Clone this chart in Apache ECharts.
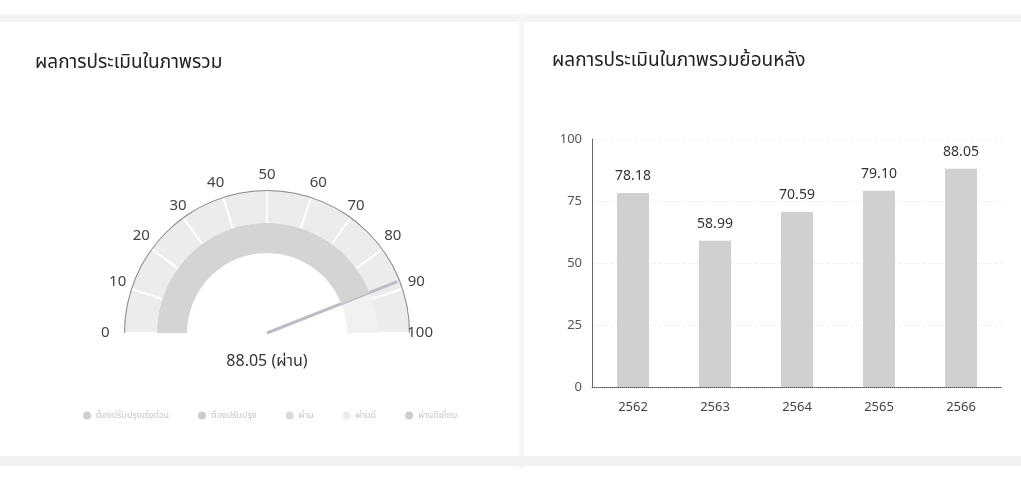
<!DOCTYPE html>
<html>
<head>
<meta charset="utf-8">
<script src="https://cdn.jsdelivr.net/npm/echarts@6/dist/echarts.min.js"></script>
<style>
html,body{margin:0;padding:0;background:#fff;}
#c{width:1021px;height:480px;}
</style>
</head>
<body>
<div id="c"></div>
<script>
const gaugeTitle = 'ผลการประเมินในภาพรวม';
const barTitle = 'ผลการประเมินในภาพรวมย้อนหลัง';
const overallScore = 88.05;
const overallStatus = 'ผ่าน';
const levelNames = ['ต้องปรับปรุงเร่งด่วน', 'ต้องปรับปรุง', 'ผ่าน', 'ผ่านดี', 'ผ่านดีเยี่ยม'];
const levelColors = ['#cfcfcf', '#cbcbcb', '#dadada', '#ececec', '#cdcdcd'];
const years = ['2562', '2563', '2564', '2565', '2566'];
const yearScores = [78.18, 58.99, 70.59, 79.10, 88.05];

const FONT = '"Noto Sans", "Noto Sans Thai", sans-serif';
const chart = echarts.init(document.getElementById('c'), null, {renderer: 'canvas'});
const center = [267, 333];

chart.setOption({
  backgroundColor: '#ffffff',
  textStyle: {fontFamily: FONT},
  graphic: [
    {type: 'rect', silent: true, shape: {x: 0, y: 14, width: 1021, height: 8}, style: {fill: '#f3f3f3'}},
    {type: 'rect', silent: true, shape: {x: 519, y: 14, width: 5, height: 454}, style: {fill: '#f5f5f5'}},
    {type: 'rect', silent: true, shape: {x: 0, y: 456, width: 1021, height: 10}, style: {fill: '#f1f1f1'}}
  ],
  title: [
    {text: gaugeTitle, left: 30, top: 48, textStyle: {fontSize: 19, fontWeight: 'normal', color: '#222', fontFamily: FONT}},
    {text: barTitle, left: 547, top: 46, textStyle: {fontSize: 19, fontWeight: 'normal', color: '#222', fontFamily: FONT}}
  ],
  legend: {
    data: levelNames,
    left: 78, top: 406,
    icon: 'circle', itemWidth: 8, itemHeight: 8, itemGap: 29,
    textStyle: {fontSize: 9, color: '#c4c4c4', fontFamily: FONT},
    selectedMode: false
  },
  grid: {left: 592, right: 19, top: 139, bottom: 93},
  xAxis: {
    type: 'category', data: years,
    axisLine: {lineStyle: {color: '#555', type: 'dotted', width: 1}},
    axisTick: {show: false},
    axisLabel: {color: '#444', fontSize: 13, margin: 14, fontFamily: FONT}
  },
  yAxis: {
    type: 'value', min: 0, max: 100, interval: 25,
    axisLine: {show: true, lineStyle: {color: '#666'}},
    axisTick: {show: false},
    axisLabel: {color: '#555', fontSize: 13, margin: 10, fontFamily: FONT},
    splitLine: {lineStyle: {color: '#f0f0f0', type: 'dashed'}}
  },
  series: [
    {
      type: 'bar', data: yearScores, barWidth: 32,
      itemStyle: {color: '#d0d0d0'},
      label: {show: true, position: 'top', distance: 10, fontSize: 14, color: '#333', fontFamily: FONT,
        formatter: p => p.value.toFixed(2)}
    },
    {
      type: 'pie', radius: [0, 0], center: [-100, -100], silent: true,
      label: {show: false}, labelLine: {show: false},
      data: levelNames.map((n, i) => ({name: n, value: 1, itemStyle: {color: levelColors[i]}}))
    },
    {
      type: 'gauge', center: center, radius: 143, startAngle: 180, endAngle: 0, min: 0, max: 100, splitNumber: 10,
      axisLine: {lineStyle: {width: 33, color: [[1, '#ececec']]}},
      splitLine: {show: true, length: 33, distance: -33, lineStyle: {color: '#ffffff', width: 2}},
      axisTick: {show: false}, axisLabel: {show: false}, pointer: {show: false},
      detail: {show: false}, title: {show: false}, data: [{value: 0}]
    },
    {
      type: 'gauge', center: center, radius: 143, startAngle: 180, endAngle: 0, min: 0, max: 100, splitNumber: 10,
      axisLine: {lineStyle: {width: 1, color: [[1, '#8a8a8a']]}},
      splitLine: {show: false}, axisTick: {show: false},
      axisLabel: {show: true, distance: -43, align: 'center', verticalAlign: 'middle', color: '#444', fontSize: 15, fontFamily: FONT},
      pointer: {show: false}, detail: {show: false}, title: {show: false}, data: [{value: 0}]
    },
    {
      type: 'gauge', center: center, radius: 110, startAngle: 180, endAngle: 0, min: 0, max: 100, splitNumber: 10,
      axisLine: {lineStyle: {width: 30, color: [[1, '#f1f1f1']]}},
      progress: {show: true, width: 30, itemStyle: {color: '#d4d4d4'}},
      splitLine: {show: false}, axisTick: {show: false}, axisLabel: {show: false},
      pointer: {show: true, icon: 'rect', length: 140, width: 3, offsetCenter: [0, 0], itemStyle: {color: '#bcbcc4'}},
      anchor: {show: false},
      title: {show: false},
      detail: {show: true, offsetCenter: [0, 28], fontSize: 16, fontWeight: 'normal', color: '#333', fontFamily: FONT,
        formatter: v => v.toFixed(2) + ' (' + overallStatus + ')'},
      data: [{value: overallScore, name: overallStatus}]
    }
  ]
});
</script>
</body>
</html>
